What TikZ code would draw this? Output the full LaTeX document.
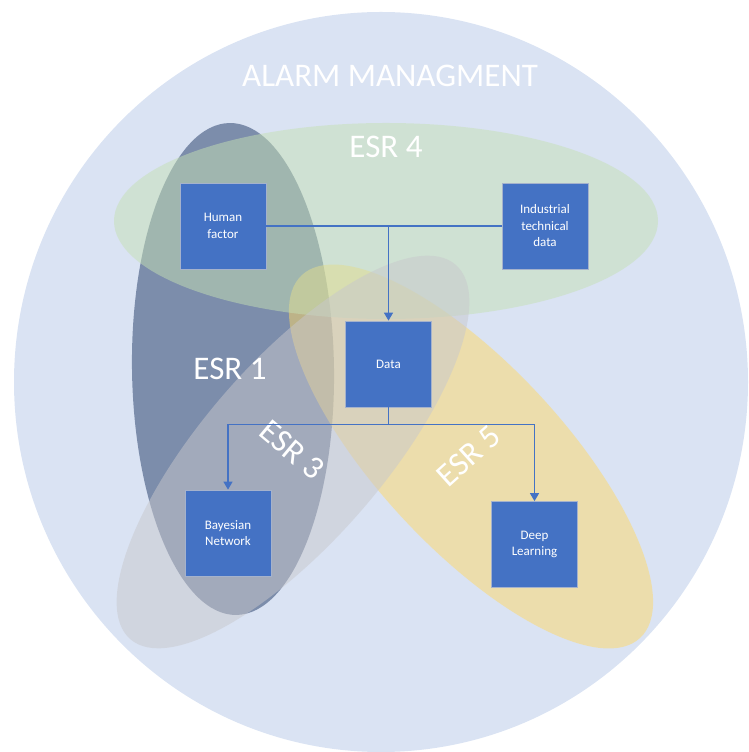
\documentclass[tikz,border=0pt]{standalone}
\usepackage{fontspec}
\setmainfont{Carlito}
\usetikzlibrary{arrows.meta}

\definecolor{circlefill}{HTML}{DAE3F3}
\definecolor{esrone}{HTML}{203864}
\definecolor{esrfour}{HTML}{C5E0B4}
\definecolor{esrfive}{HTML}{FFD966}
\definecolor{esrthree}{HTML}{C8C8CC}
\definecolor{boxblue}{HTML}{4472C4}
\definecolor{boxedge}{HTML}{A5B2CC}

\begin{document}
\begin{tikzpicture}[x=1pt,y=1pt,
  region/.style={fill opacity=0.5},
  box/.style={fill=boxblue, draw=boxedge, line width=0.7pt,
    minimum width=86pt, minimum height=86pt, inner sep=0pt,
    text=white, font=\fontsize{13}{16.5}\selectfont, align=center},
  link/.style={draw=boxblue, line width=1.3pt},
  tip/.style={-{Triangle[width=9pt,length=8pt]}},
  biglabel/.style={text=white, inner sep=0pt, font=\fontsize{33}{38}\selectfont}]

\useasboundingbox (0,0) rectangle (748,752);
\clip (0,0) rectangle (748,752);

% outer domain
\fill[circlefill] (381,370) ellipse [x radius=367, y radius=370];

% overlapping research areas
\fill[esrone, region, rotate around={0.8:(233,383)}]
  (233,383) ellipse [x radius=101, y radius=246];
\fill[esrfive, region, rotate around={-47:(471,295.5)}]
  (471,295.5) ellipse [x radius=248, y radius=92];
\fill[esrfour, region]
  (386,531) ellipse [x radius=272, y radius=98];
\fill[esrthree, region, rotate around={49:(293,300)}]
  (293,300) ellipse [x radius=248, y radius=90];

% labels
\node[biglabel] (title) at (390,676) {ALARM MANAGMENT};
\node[biglabel] (esr4) at (386,605) {ESR 4};
\node[biglabel] (esr1) at (230,383) {ESR 1};
\node[biglabel, rotate=-40] (esr3) at (292,302) {ESR 3};
\node[biglabel, rotate=42] (esr5) at (469,296) {ESR 5};

% blocks
\node[box] (hf) at (223,526) {Human\\factor};
\node[box] (itd) at (545,526) {Industrial\\technical\\data};
\node[box] (data) at (388.5,388) {Data};
\node[box] (bn) at (228,219) {Bayesian\\Network};
\node[box] (dl) at (534.5,207.5) {Deep\\Learning};

% connectors
\draw[link] (hf.east) -- (itd.west);
\draw[link, tip] (hf.east -| data.north) -- (data.north);
\draw[link] (data.south) -- ++(0,-17) coordinate (split);
\draw[link, tip] (split) -| (bn.north);
\draw[link, tip] (split) -| (dl.north);
\end{tikzpicture}
\end{document}
